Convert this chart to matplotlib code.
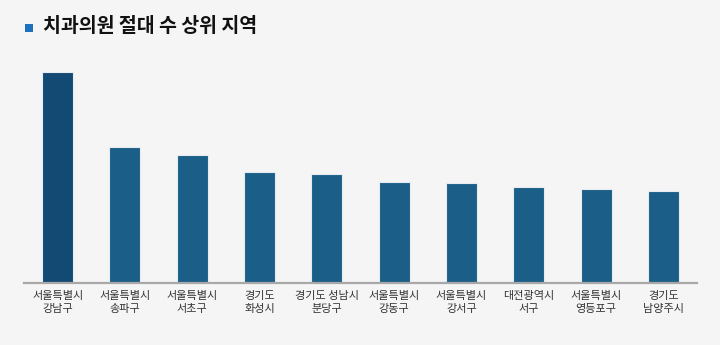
import matplotlib
matplotlib.use("Agg")
import matplotlib.pyplot as plt
from matplotlib.patches import Rectangle

plt.rcParams['font.family'] = ['Noto Sans CJK KR', 'DejaVu Sans']

# data (relative bar heights)
regions = ["서울특별시\n강남구", "서울특별시\n송파구", "서울특별시\n서초구", "경기도\n화성시",
           "경기도 성남시\n분당구", "서울특별시\n강동구", "서울특별시\n강서구", "대전광역시\n서구",
           "서울특별시\n영등포구", "경기도\n남양주시"]
clinics = [633, 408, 384, 333, 327, 303, 300, 288, 282, 276]
title = "치과의원 절대 수 상위 지역"

bg = "#f5f5f5"
colors = ["#134a74"] + ["#1b5f88"] * (len(clinics) - 1)

fig = plt.figure(figsize=(7.2, 3.45), dpi=100, facecolor=bg)
ax = fig.add_axes([24 / 720, 1 - 283 / 345, 673 / 720, 223 / 345])
ax.set_facecolor(bg)

x = range(len(regions))
ax.bar(x, clinics, width=0.46, color=colors, edgecolor="#e6ecf2", linewidth=0.8)
ax.set_xlim(-0.5, len(regions) - 0.5)
ax.set_ylim(0, 670)

for side in ["top", "right", "left"]:
    ax.spines[side].set_visible(False)
ax.spines["bottom"].set_color("#a8a8a8")
ax.spines["bottom"].set_linewidth(1.6)
ax.set_yticks([])
ax.set_xticks(list(x))
ax.set_xticklabels(regions, fontsize=8, color="#333333", linespacing=1.35)
ax.tick_params(axis="x", length=0, pad=6)

# title with blue square marker
fig.add_artist(Rectangle((25 / 720, 1 - 32 / 345), 8 / 720, 8 / 345,
                         transform=fig.transFigure, color="#1f6fbf", lw=0))
fig.text(43 / 720, 1 - 27 / 345, title, fontsize=14, fontweight="bold",
         color="#111111", va="center", ha="left")

fig.savefig("out.png", dpi=100, facecolor=bg)
